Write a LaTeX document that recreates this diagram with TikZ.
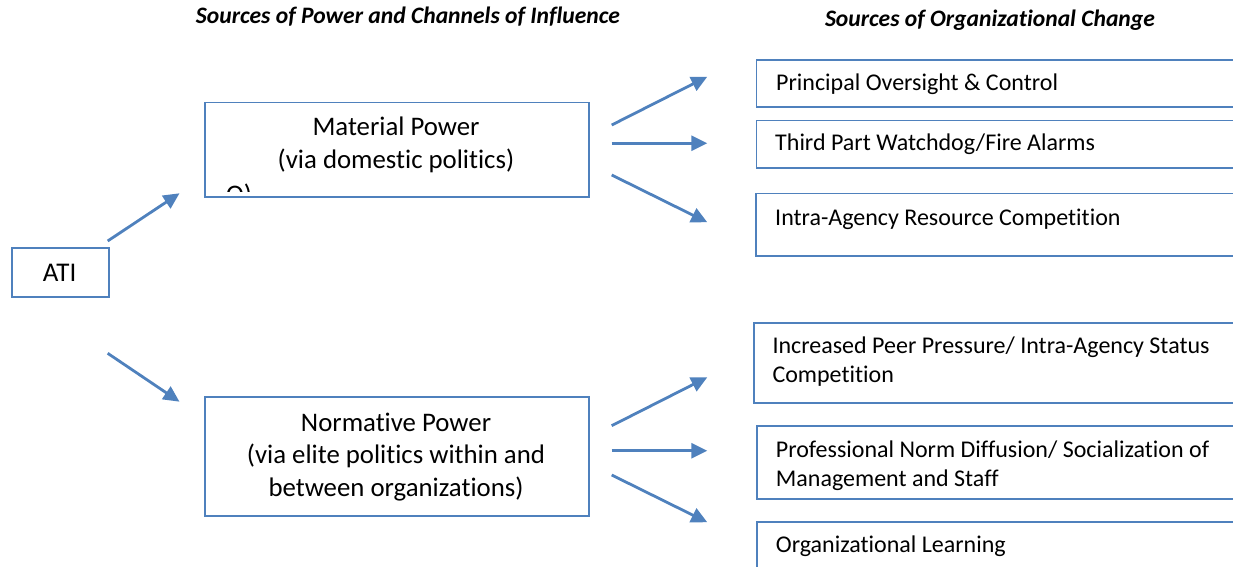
\documentclass[tikz,border=0pt]{standalone}
\usepackage{fontspec}
\setmainfont{Carlito}[Ligatures=NoCommon]
\usetikzlibrary{arrows.meta}
\definecolor{accent}{RGB}{79,129,189}
\begin{document}
\begin{tikzpicture}[x=1pt,y=-1pt,
  box/.style={draw=accent, line width=1.5pt, rectangle, inner sep=0pt, anchor=north west},
  flow/.style={draw=accent, line width=2.8pt, -{Triangle[length=16pt,width=15pt]}},
  heading/.style={inner sep=0pt, anchor=base, font=\fontsize{23.6}{28}\selectfont\bfseries\itshape},
  powertext/.style={inner sep=0pt, anchor=base, font=\fontsize{26.8}{32}\selectfont},
  changetext/.style={inner sep=0pt, anchor=base west, font=\fontsize{24}{29}\selectfont},
]
\useasboundingbox (0,0) rectangle (1233,567);

% headings
\node[heading] (h1) at (408,23.3) {Sources of Power and Channels of Influence};
\node[heading] (h2) at (990,26.7) {Sources of Organizational Change};

% source box
\node[box, minimum width=97pt, minimum height=49pt] (ati) at (11,247) {};
\node[powertext, font=\fontsize{27}{32}\selectfont] (atit) at (59.7,281) {ATI};

% power boxes
\node[box, minimum width=384pt, minimum height=94pt] (mat) at (204,102) {};
\node[powertext] (mat1) at (396,135.7) {Material Power};
\node[powertext] (mat2) at (396,168.3) {(via domestic politics)};
\begin{scope}
  \clip (205,102) rectangle (587,191);
  \node[powertext, anchor=base west] (mat3) at (226,203.5) {O)};
\end{scope}

\node[box, minimum width=384pt, minimum height=119pt] (norm) at (204,396) {};
\node[powertext] (norm1) at (396,431.7) {Normative Power};
\node[powertext] (norm2) at (396,463.3) {(via elite politics within and};
\node[powertext] (norm3) at (396,496.7) {between organizations)};

% change boxes (running off the right edge)
\node[box, minimum width=520pt, minimum height=47pt] (r1) at (755.5,59.5) {};
\node[changetext] (r1t) at (776,90.7) {Principal Oversight \& Control};

\node[box, minimum width=520pt, minimum height=47pt] (r2) at (755.5,120) {};
\node[changetext] (r2t) at (775,150.7) {Third Part Watchdog/Fire Alarms};

\node[box, minimum width=520pt, minimum height=62.5pt] (r3) at (755,192.5) {};
\node[changetext] (r3t) at (775,225.7) {Intra-Agency Resource Competition};

\node[box, minimum width=520pt, minimum height=80pt] (r4) at (753,322) {};
\node[changetext] (r4a) at (772.3,353.3) {Increased Peer Pressure/ Intra-Agency Status};
\node[changetext] (r4b) at (772.3,382.7) {Competition};

\node[box, minimum width=520pt, minimum height=73pt] (r5) at (756,425) {};
\node[changetext] (r5a) at (775.7,457.3) {Professional Norm Diffusion/ Socialization of};
\begin{scope}
  \clip (757,426) rectangle (1240,497);
  \node[changetext] (r5b) at (775.7,486) {Management and Staff};
\end{scope}

\node[box, minimum width=520pt, minimum height=80pt] (r6) at (756,521) {};
\node[changetext] (r6t) at (775.7,552.7) {Organizational Learning};

% arrow end points
\coordinate (a1s) at (107.7,241);   \coordinate (a1e) at (179.5,193.3);
\coordinate (a2s) at (107.7,353.3); \coordinate (a2e) at (179.5,401.7);
\coordinate (m1s) at (611.7,125);   \coordinate (m1e) at (707.3,76.7);
\coordinate (m2s) at (611.7,143.3); \coordinate (m2e) at (707.3,143.3);
\coordinate (m3s) at (611.7,175);   \coordinate (m3e) at (707.3,222.3);
\coordinate (n1s) at (611.7,425.7); \coordinate (n1e) at (707.3,377.3);
\coordinate (n2s) at (611.7,450.7); \coordinate (n2e) at (707.3,450.7);
\coordinate (n3s) at (611.7,475);   \coordinate (n3e) at (707.3,522.3);

\draw[flow] (a1s) -- (a1e);
\draw[flow] (a2s) -- (a2e);
\draw[flow] (m1s) -- (m1e);
\draw[flow] (m2s) -- (m2e);
\draw[flow] (m3s) -- (m3e);
\draw[flow] (n1s) -- (n1e);
\draw[flow] (n2s) -- (n2e);
\draw[flow] (n3s) -- (n3e);
\end{tikzpicture}
\end{document}
